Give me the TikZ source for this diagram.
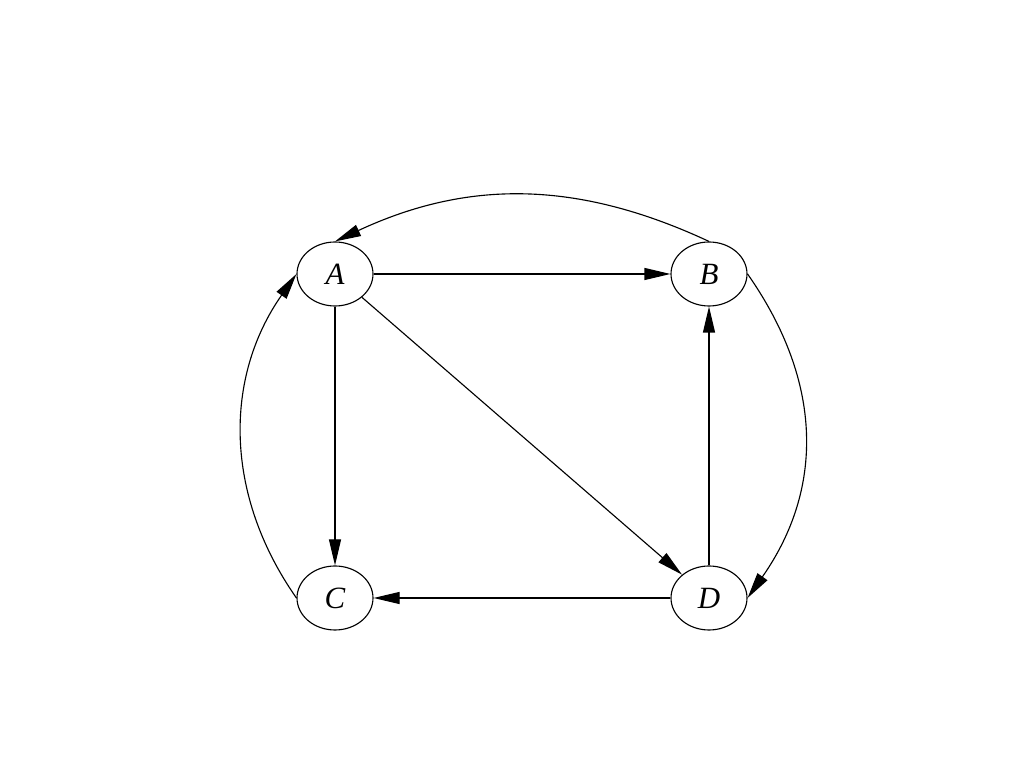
\documentclass[tikz,border=0pt]{standalone}
\usepackage{fontspec}
\setmainfont{Liberation Serif}
\usetikzlibrary{shapes.geometric,arrows.meta}
\begin{document}
\begin{tikzpicture}[
    vertex/.style={ellipse, draw, line width=0.8pt, minimum width=1.9cm, minimum height=1.6cm, inner sep=0pt, font=\fontsize{22}{26}\selectfont\itshape},
    edge/.style={line width=0.8pt, -{Triangle[length=6.5mm, width=3mm]}}
]
    \useasboundingbox (0, 0) rectangle (25.6, 19.2);
    \node[vertex] (A) at (8.375, 12.35) {A};
    \node[vertex] (B) at (17.725, 12.35) {B};
    \node[vertex] (C) at (8.375, 4.25) {C};
    \node[vertex] (D) at (17.725, 4.25) {D};

    \draw[edge] (A) -- (B);
    \draw[edge] (A) -- (C);
    \draw[edge] (A) -- (D);
    \draw[edge] (D) -- (B);
    \draw[edge] (D) -- (C);

    \draw[edge] (B.north) to[out=155, in=25, looseness=1.0] (A.north);
    \draw[edge] (C.west) to[out=125, in=235] (A.west);
    \draw[edge] (B.east) to[out=-55, in=55, looseness=1.05] (D.east);
\end{tikzpicture}
\end{document}
